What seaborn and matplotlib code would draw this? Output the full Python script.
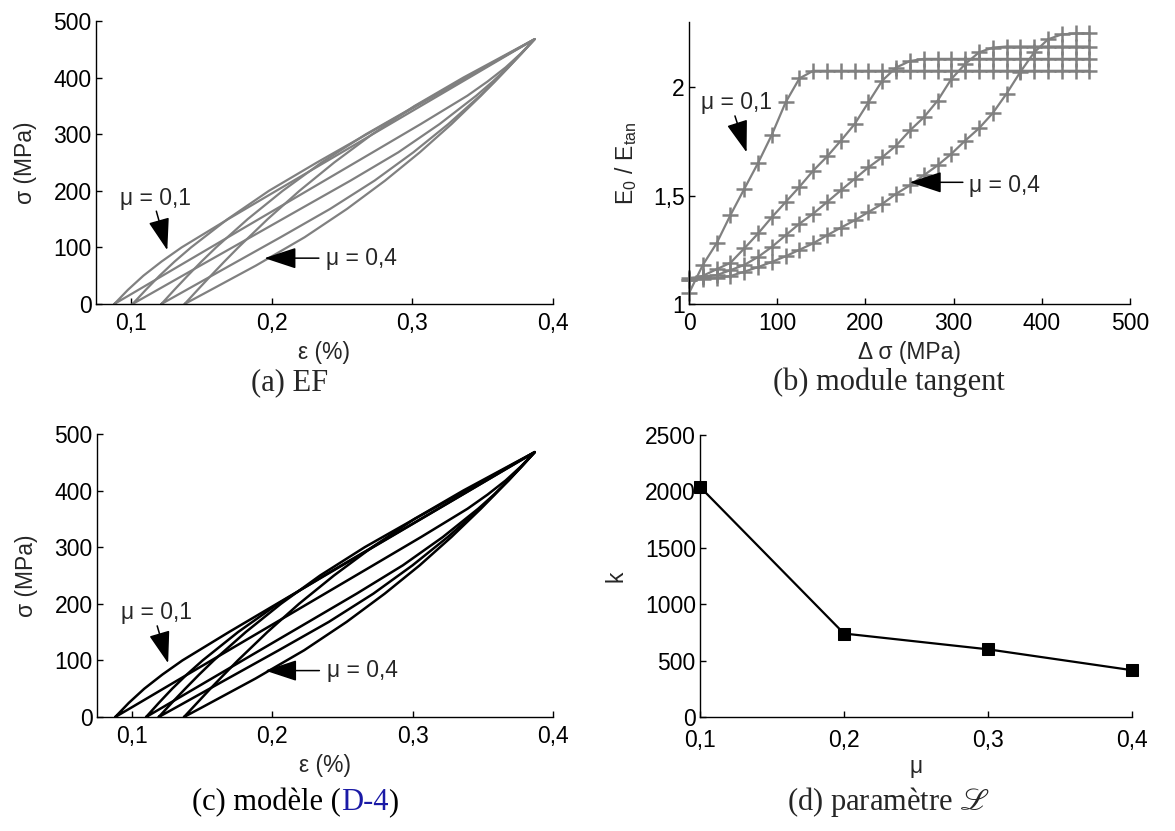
import matplotlib
matplotlib.use("Agg")
import matplotlib.pyplot as plt
import seaborn as sns
import pandas as pd

# stress levels for the loading / unloading branches (MPa)
sig_load = [0, 25, 50, 75, 100, 150, 200, 250, 300, 350, 400, 450, 468]
sig_unload = [468, 443, 418, 393, 368, 318, 268, 218, 168, 118, 68, 18, 0]

# (a) EF loops, strain in %
ef_load_01 = [0.088, 0.0977, 0.1087, 0.1216, 0.1359, 0.1690, 0.2032, 0.2375, 0.2718, 0.3061, 0.3404, 0.3746, 0.387]
ef_unload_01 = [0.387, 0.3773, 0.3663, 0.3534, 0.3391, 0.3060, 0.2718, 0.2375, 0.2032, 0.1689, 0.1346, 0.1004, 0.088]
ef_load_02 = [0.101, 0.1104, 0.1202, 0.1309, 0.1426, 0.1686, 0.1980, 0.2321, 0.2676, 0.3031, 0.3387, 0.3742, 0.387]
ef_unload_02 = [0.387, 0.3776, 0.3678, 0.3571, 0.3454, 0.3194, 0.2900, 0.2560, 0.2204, 0.1849, 0.1493, 0.1138, 0.101]
ef_load_03 = [0.1215, 0.1307, 0.1402, 0.1500, 0.1604, 0.1829, 0.2078, 0.2354, 0.2670, 0.3022, 0.3382, 0.3741, 0.387]
ef_unload_03 = [0.387, 0.3778, 0.3683, 0.3585, 0.3481, 0.3256, 0.3007, 0.2731, 0.2415, 0.2063, 0.1703, 0.1344, 0.1215]
ef_load_04 = [0.138, 0.1473, 0.1567, 0.1663, 0.1762, 0.1971, 0.2197, 0.2444, 0.2715, 0.3016, 0.3362, 0.3735, 0.387]
ef_unload_04 = [0.387, 0.3777, 0.3683, 0.3587, 0.3488, 0.3279, 0.3053, 0.2806, 0.2535, 0.2234, 0.1888, 0.1515, 0.138]

# (c) model loops
mod_load_01 = [0.088, 0.0977, 0.1087, 0.1216, 0.1359, 0.1690, 0.2032, 0.2375, 0.2718, 0.3061, 0.3404, 0.3746, 0.387]
mod_unload_01 = [0.387, 0.3773, 0.3663, 0.3534, 0.3391, 0.3060, 0.2718, 0.2375, 0.2032, 0.1689, 0.1346, 0.1004, 0.088]
mod_load_02 = [0.110, 0.1191, 0.1286, 0.1390, 0.1503, 0.1755, 0.2040, 0.2369, 0.2713, 0.3058, 0.3402, 0.3746, 0.387]
mod_unload_02 = [0.387, 0.3779, 0.3684, 0.3580, 0.3467, 0.3215, 0.2930, 0.2601, 0.2257, 0.1912, 0.1568, 0.1224, 0.110]
mod_load_03 = [0.119, 0.1283, 0.1379, 0.1478, 0.1582, 0.1810, 0.2061, 0.2340, 0.2658, 0.3014, 0.3377, 0.3739, 0.387]
mod_unload_03 = [0.387, 0.3777, 0.3681, 0.3582, 0.3478, 0.3250, 0.2999, 0.2720, 0.2402, 0.2046, 0.1683, 0.1321, 0.119]
mod_load_04 = [0.137, 0.1464, 0.1558, 0.1655, 0.1754, 0.1964, 0.2190, 0.2439, 0.2711, 0.3013, 0.3360, 0.3734, 0.387]
mod_unload_04 = [0.387, 0.3776, 0.3682, 0.3585, 0.3486, 0.3276, 0.3050, 0.2801, 0.2529, 0.2227, 0.1880, 0.1506, 0.137]

# (b) tangent modulus ratio vs stress increment
dsig = [0, 15.7, 31.3, 47.0, 62.6, 78.3, 93.9, 109.6, 125.2, 140.9, 156.6, 172.2, 187.9, 203.5, 219.2,
        234.8, 250.5, 266.1, 281.8, 297.4, 313.1, 328.8, 344.4, 360.1, 375.7, 391.4, 407.0, 422.7, 438.3, 454.0]
ratio_01 = [1.05, 1.18, 1.28, 1.41, 1.53, 1.65, 1.78, 1.93, 2.04, 2.075] + [2.075] * 20
ratio_02 = [1.11, 1.13, 1.16, 1.19, 1.256, 1.325, 1.40, 1.47, 1.54, 1.615, 1.68, 1.753, 1.83, 1.93, 2.03,
            2.09, 2.12] + [2.13] * 13
ratio_03 = [1.12, 1.126, 1.133, 1.156, 1.18, 1.217, 1.263, 1.317, 1.37, 1.417, 1.47, 1.524, 1.577, 1.63,
            1.677, 1.73, 1.80, 1.86, 1.937, 2.037, 2.106, 2.16, 2.182] + [2.187] * 7
ratio_04 = [1.11, 1.115, 1.12, 1.129, 1.149, 1.17, 1.194, 1.22, 1.25, 1.28, 1.317, 1.352, 1.386, 1.424,
            1.462, 1.508, 1.547, 1.593, 1.639, 1.692, 1.753, 1.81, 1.88, 1.97, 2.07, 2.16, 2.22, 2.243,
            2.247, 2.247]

# (d) parameter k vs friction coefficient
mu_vals = [0.1, 0.2, 0.3, 0.4]
k_vals = [2040, 740, 600, 415]

W, H = 1175, 831
GRAY = "#808080"
FS = 16.5

sns.set_style("ticks")
plt.rcParams["font.family"] = ["Liberation Sans", "DejaVu Sans"]
plt.rcParams["mathtext.fontset"] = "stix"
plt.rcParams["axes.linewidth"] = 1.0


def loops_frame(loops):
    rows = []
    for mu, up, down in loops:
        for i, (e, s) in enumerate(zip(up + down, sig_load + sig_unload)):
            rows.append({"mu": mu, "step": i, "eps": e, "sigma": s})
    return pd.DataFrame(rows)


def add_axes(fig, left, top, right, bottom):
    return fig.add_axes([left / W, 1 - bottom / H, (right - left) / W, (bottom - top) / H])


def style(ax, xpad=6):
    sns.despine(ax=ax)
    for sp in ("left", "bottom"):
        ax.spines[sp].set_color("black")
        ax.spines[sp].set_linewidth(1.0)
    ax.tick_params(direction="in", length=4, width=1, labelsize=FS, colors="black")
    ax.tick_params(axis="x", pad=xpad)
    ax.tick_params(axis="y", pad=3)


def arrow(ax, tip, tail):
    ax.annotate("", xy=tip, xytext=tail,
                arrowprops=dict(arrowstyle="-|>,head_length=1.0,head_width=0.33",
                                mutation_scale=20, color="black", lw=1.1,
                                shrinkA=0, shrinkB=0))


def strain_panel(ax, df, color, lw, a01, a04):
    sns.lineplot(data=df, x="eps", y="sigma", units="mu", estimator=None, sort=False,
                 color=color, lw=lw, ax=ax, legend=False)
    ax.set_xlim(0.075, 0.4)
    ax.set_ylim(0, 500)
    ax.set_xticks([0.1, 0.2, 0.3, 0.4])
    ax.set_xticklabels(["0,1", "0,2", "0,3", "0,4"])
    ax.set_yticks([0, 100, 200, 300, 400, 500])
    ax.set_xlabel("ε (%)", fontsize=FS)
    ax.set_ylabel("σ (MPa)", fontsize=FS)
    ax.xaxis.set_label_coords(0.5, -0.13)
    ax.yaxis.set_label_coords(-0.13, 0.5)
    style(ax)
    ax.text(0.092, a01, "μ = 0,1", fontsize=FS, va="center", ha="left")
    arrow(ax, (0.1257, 95), (0.1179, a01 - 23))
    ax.text(0.2389, a04, "μ = 0,4", fontsize=FS, va="center", ha="left")
    arrow(ax, (0.1948, a04), (0.2335, a04))


fig = plt.figure(figsize=(W / 100, H / 100), dpi=100)

# (a)
ax_a = add_axes(fig, 96, 21, 553, 304)
df_a = loops_frame([(0.1, ef_load_01, ef_unload_01), (0.2, ef_load_02, ef_unload_02),
                    (0.3, ef_load_03, ef_unload_03), (0.4, ef_load_04, ef_unload_04)])
strain_panel(ax_a, df_a, GRAY, 1.6, 187, 81)

# (c)
ax_c = add_axes(fig, 97, 434, 553, 717)
df_c = loops_frame([(0.1, mod_load_01, mod_unload_01), (0.2, mod_load_02, mod_unload_02),
                    (0.3, mod_load_03, mod_unload_03), (0.4, mod_load_04, mod_unload_04)])
strain_panel(ax_c, df_c, "black", 1.8, 184, 82)

# (b)
ax_b = add_axes(fig, 689, 22, 1130, 304)
df_b = pd.concat([pd.DataFrame({"dsig": dsig, "ratio": r, "mu": m})
                  for m, r in [(0.1, ratio_01), (0.2, ratio_02), (0.3, ratio_03), (0.4, ratio_04)]])
sns.lineplot(data=df_b, x="dsig", y="ratio", units="mu", estimator=None, sort=False,
             color=GRAY, lw=1.6, marker="+", markersize=11, markeredgewidth=1.8,
             markeredgecolor=GRAY, ax=ax_b, legend=False, clip_on=False)
ax_b.set_xlim(0, 500)
ax_b.set_ylim(1, 2.3)
ax_b.set_xticks([0, 100, 200, 300, 400, 500])
ax_b.set_yticks([1, 1.5, 2])
ax_b.set_yticklabels(["1", "1,5", "2"])
ax_b.set_xlabel("Δ σ (MPa)", fontsize=FS)
ax_b.set_ylabel(r"E$_\mathregular{0}$ / E$_\mathregular{tan}$", fontsize=FS)
ax_b.xaxis.set_label_coords(0.5, -0.13)
ax_b.yaxis.set_label_coords(-0.115, 0.5)
style(ax_b)
ax_b.text(14, 1.928, "μ = 0,1", fontsize=FS, va="center", ha="left")
arrow(ax_b, (65.3, 1.699), (52.1, 1.867))
ax_b.text(318, 1.546, "μ = 0,4", fontsize=FS, va="center", ha="left")
arrow(ax_b, (250.3, 1.561), (310.5, 1.561))

# (d)
ax_d = add_axes(fig, 700, 435, 1132, 717)
df_d = pd.DataFrame({"mu": mu_vals, "k": k_vals})
sns.lineplot(data=df_d, x="mu", y="k", color="black", lw=1.6, marker="s", markersize=9,
             markeredgecolor="black", ax=ax_d, legend=False, clip_on=False)
ax_d.set_xlim(0.1, 0.4)
ax_d.set_ylim(0, 2500)
ax_d.set_xticks([0.1, 0.2, 0.3, 0.4])
ax_d.set_xticklabels(["0,1", "0,2", "0,3", "0,4"])
ax_d.set_yticks([0, 500, 1000, 1500, 2000, 2500])
ax_d.set_xlabel("μ", fontsize=FS)
ax_d.set_ylabel("k", fontsize=FS)
ax_d.xaxis.set_label_coords(0.5, -0.135)
ax_d.yaxis.set_label_coords(-0.167, 0.5)
style(ax_d, xpad=9)

# captions
CAP = dict(fontsize=22, family=["Liberation Serif", "DejaVu Serif"], va="baseline")
fig.text(290 / W, 1 - 390 / H, "(a) EF", ha="center", **CAP)
fig.text(889 / W, 1 - 390 / H, "(b) module tangent", ha="center", **CAP)
fig.text(889 / W, 1 - 810 / H, r"(d) paramètre $\mathscr{L}$", ha="center", **CAP)

pieces = [("(c) modèle (", "black"), ("D-4", "#1a1aa6"), (")", "black")]
fig.canvas.draw()
renderer = fig.canvas.get_renderer()
widths = []
for txt, col in pieces:
    t = fig.text(0, 0, txt, **CAP)
    widths.append(t.get_window_extent(renderer).width)
    t.remove()
x = 295 - sum(widths) / 2
for (txt, col), w in zip(pieces, widths):
    fig.text(x / W, 1 - 810 / H, txt, ha="left", color=col, **CAP)
    x += w

fig.savefig("out.png", dpi=100)
